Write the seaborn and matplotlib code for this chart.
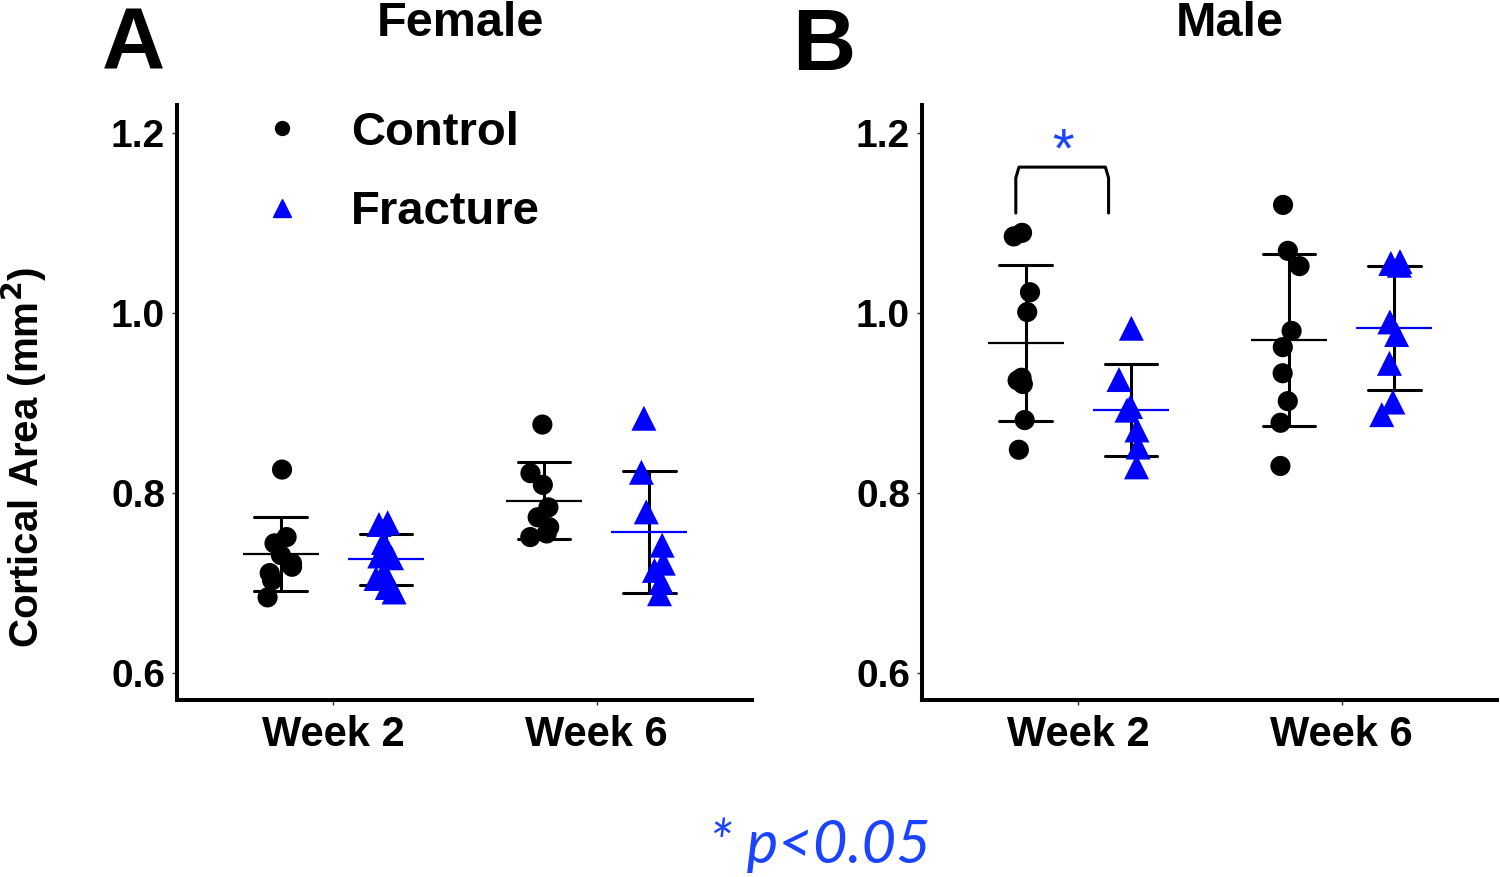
import matplotlib
matplotlib.use("Agg")
import matplotlib.pyplot as plt
from matplotlib.lines import Line2D
import numpy as np
import pandas as pd
import seaborn as sns

# ── data (cortical area, mm²) ────────────────────────────────────────────────
weeks = ["Week 2", "Week 6"]
groups = ["Control", "Fracture"]
group_colors = ["black", "#0000ff"]

female_w2_control = [0.826, 0.751, 0.744, 0.731, 0.722, 0.718, 0.711, 0.703, 0.684]
female_w2_fracture = [0.767, 0.765, 0.745, 0.730, 0.728, 0.712, 0.705, 0.695, 0.690]
female_w6_control = [0.876, 0.822, 0.809, 0.784, 0.773, 0.762, 0.755, 0.751]
female_w6_fracture = [0.883, 0.823, 0.779, 0.742, 0.722, 0.714, 0.701, 0.688]

male_w2_control = [1.089, 1.085, 1.023, 1.001, 0.928, 0.925, 0.921, 0.881, 0.848]
male_w2_fracture = [0.983, 0.926, 0.896, 0.892, 0.870, 0.851, 0.829]
male_w6_control = [1.120, 1.069, 1.052, 0.980, 0.962, 0.933, 0.902, 0.878, 0.830]
male_w6_fracture = [1.057, 1.055, 1.053, 0.990, 0.976, 0.944, 0.901, 0.887]

y_ticks = [0.6, 0.8, 1.0, 1.2]


def long_df(w2c, w2f, w6c, w6f):
    rows = []
    for week, group, vals in [("Week 2", "Control", w2c), ("Week 2", "Fracture", w2f),
                              ("Week 6", "Control", w6c), ("Week 6", "Fracture", w6f)]:
        rows += [{"week": week, "group": group, "area": v} for v in vals]
    return pd.DataFrame(rows)


female = long_df(female_w2_control, female_w2_fracture, female_w6_control, female_w6_fracture)
male = long_df(male_w2_control, male_w2_fracture, male_w6_control, male_w6_fracture)

sns.set_style("ticks")
plt.rcParams["font.family"] = ["Liberation Sans", "DejaVu Sans"]
plt.rcParams["font.weight"] = "bold"
plt.rcParams["text.color"] = "black"
plt.rcParams["axes.labelcolor"] = "black"

W, H = 1500, 877
fig = plt.figure(figsize=(15, 8.77), dpi=100)
ax_a = fig.add_axes([177 / W, 1 - 700 / H, 575 / W, 595 / H])
ax_b = fig.add_axes([922 / W, 1 - 700 / H, 575 / W, 595 / H])

np.random.seed(3)


def draw_panel(ax, df):
    for grp, marker, size in [("Control", "o", 14.5), ("Fracture", "^", 18)]:
        sns.stripplot(data=df[df["group"] == grp], x="week", y="area", hue="group",
                      order=weeks, hue_order=groups, palette=group_colors,
                      dodge=True, jitter=0.11, size=size, marker=marker,
                      linewidth=0, legend=False, ax=ax)
    # SD error bars (black for both groups)
    sns.pointplot(data=df, x="week", y="area", hue="group", order=weeks,
                  hue_order=groups, palette=["black", "black"], dodge=0.4,
                  errorbar="sd", capsize=0.2, markers="none", linestyle="none",
                  err_kws={"linewidth": 2.2}, legend=False, ax=ax)
    # mean lines
    sns.pointplot(data=df, x="week", y="area", hue="group", order=weeks,
                  hue_order=groups, palette=group_colors, dodge=0.4,
                  errorbar=None, markers="_", markersize=55, markeredgewidth=1.6,
                  linestyle="none", legend=False, ax=ax)

    ax.set_xlim(-0.593, 1.589)
    ax.set_ylim(0.57, 1.231)
    ax.set_yticks(y_ticks)
    ax.set_xlabel("")
    ax.set_ylabel("")
    for side in ["top", "right"]:
        ax.spines[side].set_visible(False)
    for side in ["left", "bottom"]:
        ax.spines[side].set_linewidth(2.9)
        ax.spines[side].set_color("black")
    ax.tick_params(axis="both", length=3.6, width=1, color="#333333",
                   labelsize=28, pad=5, labelcolor="black")
    ax.tick_params(axis="x", labelsize=30, pad=7)
    for lab in ax.get_xticklabels() + ax.get_yticklabels():
        lab.set_fontweight("bold")


draw_panel(ax_a, female)
draw_panel(ax_b, male)

# legend
handles = [Line2D([], [], marker="o", color="black", linestyle="none", markersize=10),
           Line2D([], [], marker="^", color="#0000ff", linestyle="none", markersize=13)]
ax_a.legend(handles, groups, loc="upper left", bbox_to_anchor=(0.142, 0.99),
            frameon=False, prop={"size": 34, "weight": "bold"},
            handlelength=1.0, handletextpad=0.95, labelspacing=0.75,
            borderpad=0, borderaxespad=0)

# significance bracket (Male, Week 2)
bx = [-0.237, -0.237, -0.225, 0.103, 0.115, 0.115]
by = [1.111, 1.150, 1.162, 1.162, 1.150, 1.111]
ax_b.plot(bx, by, color="black", linewidth=2.2, solid_joinstyle="round",
          clip_on=False)
ax_b.text(-0.057, 1.178, "*", color="#1a44ff", fontsize=40, ha="center",
          va="center", fontweight="normal")

# panel letters, titles, y label, footnote
fig.text(133 / W, 1 - 46 / H, "A", fontsize=63, fontweight="bold", ha="center", va="center")
fig.text(824 / W, 1 - 48 / H, "B", fontsize=63, fontweight="bold", ha="center", va="center")
fig.text(460 / W, 1 - 24 / H, "Female", fontsize=35, fontweight="bold", ha="center", va="center")
fig.text(1230 / W, 1 - 24 / H, "Male", fontsize=35, fontweight="bold", ha="center", va="center")
fig.text(24 / W, 1 - 457 / H, "Cortical Area (mm$^\\mathbf{2}$)", fontsize=29,
         fontweight="bold", rotation=90, ha="center", va="center")
fig.text(820 / W, 1 - 845 / H, "* p<0.05", fontsize=43, color="#1a44ff",
         family=["Lato", "DejaVu Sans"], style="italic", fontweight="normal",
         ha="center", va="center")

fig.savefig("out.png", dpi=100)
